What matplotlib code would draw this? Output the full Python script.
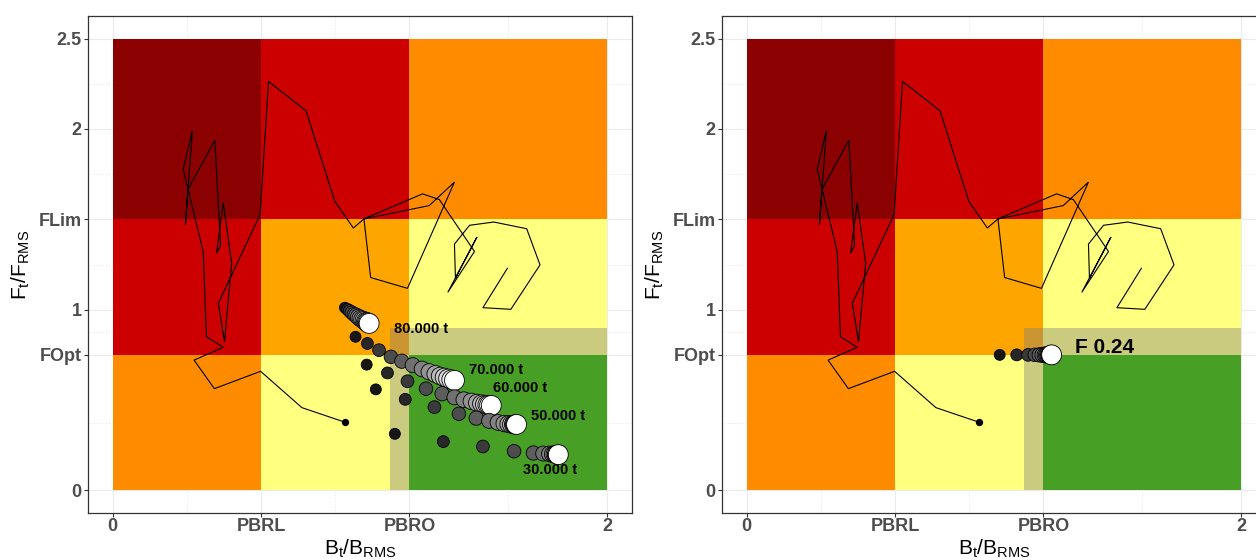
import matplotlib
matplotlib.use('Agg')
import matplotlib.pyplot as plt
import numpy as np
from matplotlib.patches import Rectangle, Polygon
from matplotlib.colors import LinearSegmentedColormap

plt.rcParams['font.family'] = ['Liberation Sans', 'DejaVu Sans']
plt.rcParams['mathtext.fontset'] = 'custom'
plt.rcParams['mathtext.rm'] = 'Liberation Sans'
plt.rcParams['mathtext.it'] = 'Liberation Sans:italic'
plt.rcParams['mathtext.bf'] = 'Liberation Sans:bold'

# ---------------- axis breaks / labels ----------------
x_breaks = [0, 0.6, 1.2, 2]
x_labels = ['0', 'PBRL', 'PBRO', '2']
y_breaks = [0, 0.75, 1, 1.5, 2, 2.5]
y_labels = ['0', 'FOpt', '1', 'FLim', '2', '2.5']
x_minor = [0.3, 0.9, 1.6]
y_minor = [0.375, 0.875, 1.25, 1.75, 2.25]

# ---------------- zones ----------------
b_edges = [0, 0.6, 1.2, 2]
f_edges = [0, 0.75, 1.5, 2.5]
zone_colors = [  # rows: F low -> high ; cols: B low -> high
    ['#FF8C00', '#FFFF80', '#47A025'],
    ['#CC0000', '#FFA500', '#FFFF80'],
    ['#8B0000', '#CC0000', '#FF8C00'],
]
band_x = [1.12, 1.2, 1.2, 2.0, 2.0, 1.12]
band_y = [0.0, 0.0, 0.75, 0.75, 0.9, 0.9]

# ---------------- historical trajectory (B/BRMS, F/FRMS) ----------------
hist_b = [1.596, 1.497, 1.610, 1.728, 1.674, 1.541, 1.443, 1.382, 1.386, 1.473,
          1.355, 1.463, 1.321, 1.253, 1.016, 1.043, 1.192, 1.382, 1.280, 1.016,
          0.973, 0.898, 0.782, 0.630, 0.596, 0.427, 0.452, 0.481, 0.447, 0.420,
          0.436, 0.413, 0.304, 0.294, 0.322, 0.285, 0.366, 0.379, 0.447, 0.329,
          0.411, 0.598, 0.765, 0.938]
hist_f = [1.229, 1.011, 1.002, 1.248, 1.448, 1.485, 1.467, 1.363, 1.174, 1.402,
          1.096, 1.322, 1.609, 1.641, 1.502, 1.178, 1.118, 1.706, 1.576, 1.502,
          1.452, 1.600, 2.100, 2.263, 1.526, 1.035, 0.822, 1.257, 1.591, 1.313,
          1.355, 1.937, 1.665, 1.471, 1.989, 1.776, 1.322, 0.850, 0.792, 0.721,
          0.563, 0.659, 0.458, 0.378]

# ---------------- projections, left panel (constant catch) ----------------
proj_names = ['80.000 t', '70.000 t', '60.000 t', '50.000 t', '30.000 t']
proj_b = [
    [0.939, 0.949, 0.958, 0.967, 0.977, 0.985, 0.993, 1.001, 1.009, 1.016, 1.023, 1.028, 1.033, 1.037],
    [0.982, 1.030, 1.077, 1.125, 1.169, 1.213, 1.251, 1.280, 1.305, 1.324, 1.341, 1.356, 1.370, 1.382],
    [1.027, 1.111, 1.192, 1.267, 1.332, 1.382, 1.420, 1.450, 1.473, 1.491, 1.504, 1.515, 1.523, 1.531],
    [1.064, 1.183, 1.301, 1.400, 1.470, 1.522, 1.558, 1.583, 1.600, 1.612, 1.621, 1.626, 1.630, 1.633],
    [1.141, 1.337, 1.497, 1.623, 1.701, 1.741, 1.766, 1.779, 1.787, 1.793, 1.797, 1.799, 1.801, 1.802],
]
proj_f = [
    [1.011, 1.002, 0.993, 0.983, 0.974, 0.967, 0.959, 0.952, 0.946, 0.941, 0.935, 0.932, 0.928, 0.924],
    [0.850, 0.813, 0.776, 0.739, 0.715, 0.693, 0.672, 0.656, 0.644, 0.633, 0.626, 0.619, 0.613, 0.609],
    [0.696, 0.650, 0.604, 0.563, 0.535, 0.515, 0.502, 0.493, 0.485, 0.480, 0.476, 0.474, 0.472, 0.470],
    [0.559, 0.504, 0.461, 0.424, 0.400, 0.385, 0.376, 0.370, 0.367, 0.365, 0.365, 0.365, 0.365, 0.365],
    [0.313, 0.270, 0.243, 0.217, 0.207, 0.204, 0.202, 0.200, 0.200, 0.198, 0.198, 0.198, 0.198, 0.198],
]
proj_label_x = [1.248, 1.549, 1.649, 1.800, 1.767]
proj_label_y = [0.893, 0.668, 0.569, 0.411, 0.113]

# ---------------- projection, right panel (constant F) ----------------
fproj_name = 'F 0.24'
fproj_b = [1.023, 1.092, 1.138, 1.165, 1.183, 1.196, 1.206, 1.213, 1.219, 1.224, 1.227, 1.230, 1.232, 1.233]
fproj_f = [0.75] * 14
fproj_label_x = 1.449
fproj_label_y = 0.79

# ---------------- styling ----------------
W, H = 1256, 560
fig = plt.figure(figsize=(W / 100, H / 100), dpi=100)
ax1 = fig.add_axes([88 / W, 1 - 513 / H, 544 / W, 497 / H])
ax2 = fig.add_axes([722 / W, 1 - 513 / H, 544 / W, 497 / H])

cmap = LinearSegmentedColormap.from_list('yr', ['#161616', '#FFFFFF'])
tick_col = '#4D4D4D'


def base(ax):
    ax.set_xlim(-0.1, 2.1)
    ax.set_ylim(-0.125, 2.625)
    for v in x_breaks:
        ax.axvline(v, color='#EBEBEB', lw=0.8, zorder=0)
    for v in y_breaks:
        ax.axhline(v, color='#EBEBEB', lw=0.8, zorder=0)
    for v in x_minor:
        ax.axvline(v, color='#E3E3E3', lw=0.7, ls=(0, (1, 2)), zorder=0)
    for v in y_minor:
        ax.axhline(v, color='#E3E3E3', lw=0.7, ls=(0, (1, 2)), zorder=0)
    for i in range(3):
        for j in range(3):
            ax.add_patch(Rectangle((b_edges[j], f_edges[i]),
                                   b_edges[j + 1] - b_edges[j],
                                   f_edges[i + 1] - f_edges[i],
                                   facecolor=zone_colors[i][j], edgecolor='none', zorder=1))
    ax.add_patch(Polygon(list(zip(band_x, band_y)), closed=True,
                         facecolor='#7F7F7F', alpha=0.4, edgecolor='none', zorder=2))
    ax.plot(hist_b, hist_f, color='black', lw=0.8, zorder=3, solid_joinstyle='miter')
    ax.scatter([hist_b[-1]], [hist_f[-1]], s=28, color='black', zorder=3.5, linewidths=0)
    ax.set_xticks(x_breaks)
    ax.set_xticklabels(x_labels)
    ax.set_yticks(y_breaks)
    ax.set_yticklabels(y_labels)
    ax.tick_params(direction='out', length=3, width=0.8, color='#333333',
                   labelsize=13, labelcolor=tick_col)
    ax.tick_params(axis='x', pad=0.5)
    ax.tick_params(axis='y', pad=1.5)
    for lab in ax.get_xticklabels() + ax.get_yticklabels():
        lab.set_fontweight('bold')
    for sp in ax.spines.values():
        sp.set_color('#333333')
        sp.set_linewidth(0.9)
    ax.set_xlabel(r'$\mathdefault{B_t/B_{RMS}}$', fontsize=15, labelpad=2)
    ax.set_ylabel(r'$\mathdefault{F_t/F_{RMS}}$', fontsize=15, labelpad=5)


def series(ax, bs, fs):
    n = len(bs)
    cols = cmap(np.linspace(0, 1, n))
    sizes = np.linspace(62, 205, n)
    ax.scatter(bs, fs, s=sizes, c=cols, edgecolors='black', linewidths=0.6, zorder=4)


base(ax1)
for bs, fs in zip(proj_b, proj_f):
    series(ax1, bs, fs)
for name, lx, ly in zip(proj_names, proj_label_x, proj_label_y):
    ax1.text(lx, ly, name, ha='center', va='center', fontsize=10.5,
             fontweight='bold', color='black', zorder=5)

base(ax2)
series(ax2, fproj_b, fproj_f)
ax2.text(fproj_label_x, fproj_label_y, fproj_name, ha='center', va='center',
         fontsize=15, fontweight='bold', color='black', zorder=5)

fig.savefig('out.png', dpi=100, facecolor='white')
